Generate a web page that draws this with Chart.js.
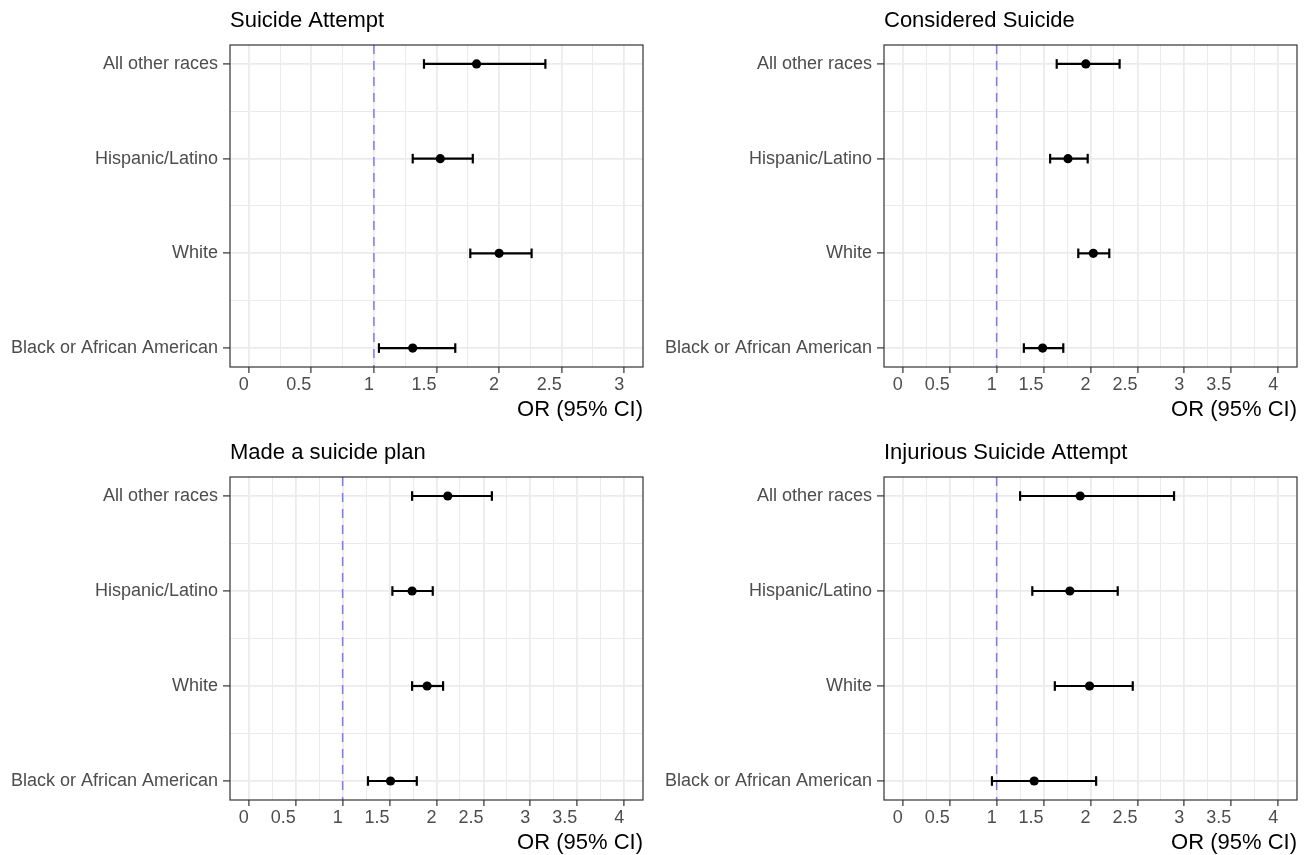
<!DOCTYPE html>
<html>
<head>
<meta charset="utf-8">
<script src="https://cdn.jsdelivr.net/npm/chart.js@4.4.1/dist/chart.umd.min.js"></script>
<style>
  html, body { margin: 0; padding: 0; background: #fff; }
  body { width: 1309px; height: 855px; position: relative; overflow: hidden; }
  canvas { position: absolute; }
</style>
</head>
<body>
<canvas id="c1"></canvas>
<canvas id="c2"></canvas>
<canvas id="c3"></canvas>
<canvas id="c4"></canvas>
<script>
const races = ['All other races', 'Hispanic/Latino', 'White', 'Black or African American'];
const titles = ['Suicide Attempt', 'Considered Suicide', 'Made a suicide plan', 'Injurious Suicide Attempt'];

const orAttempt = [1.82, 1.53, 2.00, 1.31];
const loAttempt = [1.40, 1.31, 1.77, 1.04];
const hiAttempt = [2.37, 1.79, 2.26, 1.65];

const orConsidered = [1.95, 1.76, 2.03, 1.49];
const loConsidered = [1.64, 1.57, 1.87, 1.29];
const hiConsidered = [2.31, 1.97, 2.20, 1.71];

const orPlan = [2.12, 1.74, 1.90, 1.51];
const loPlan = [1.74, 1.53, 1.74, 1.27];
const hiPlan = [2.59, 1.96, 2.07, 1.79];

const orInjury = [1.89, 1.78, 1.99, 1.40];
const loInjury = [1.25, 1.38, 1.62, 0.95];
const hiInjury = [2.89, 2.29, 2.45, 2.06];

const xMaxes = [3, 4, 4, 4];
const refValue = 1;
const axisTitle = 'OR (95% CI)';

Chart.defaults.font.family = "'Liberation Sans', Arial, sans-serif";
Chart.defaults.animation = false;

// canvas box and plot area for each panel, in page pixels
const boxes = [
  {left: 0,   top: 0,   w: 654, h: 430, pl: 230, pt: 45,  pr: 643,  pb: 367},
  {left: 654, top: 0,   w: 655, h: 430, pl: 884, pt: 45,  pr: 1297, pb: 367},
  {left: 0,   top: 425, w: 654, h: 430, pl: 230, pt: 477, pr: 643,  pb: 800},
  {left: 654, top: 425, w: 655, h: 430, pl: 884, pt: 477, pr: 1297, pb: 800}
];

const frame = {
  id: 'frame',
  afterDraw(chart) {
    const a = chart.chartArea, c = chart.ctx;
    c.save();
    c.strokeStyle = '#333333';
    c.lineWidth = 1.2;
    c.strokeRect(a.left, a.top, a.right - a.left, a.bottom - a.top);
    c.restore();
  }
};

function drawPanel(id, b, title, or, lo, hi, xMax) {
  const cv = document.getElementById(id);
  cv.width = b.w; cv.height = b.h;
  cv.style.left = b.left + 'px'; cv.style.top = b.top + 'px';
  cv.style.width = b.w + 'px'; cv.style.height = b.h + 'px';

  const xPad = xMax * 0.05;
  const yPad = 0.2;
  const nRows = races.length;

  const datasets = [{
    data: or.map((v, i) => ({x: v, y: i})),
    pointRadius: 4.6,
    pointBackgroundColor: '#000',
    pointBorderColor: '#000',
    pointBorderWidth: 0,
    order: 0
  }];
  races.forEach((r, i) => {
    datasets.push({
      data: [{x: lo[i], y: i}, {x: hi[i], y: i}],
      showLine: true,
      borderColor: '#000',
      borderWidth: 2.2,
      pointStyle: 'line',
      rotation: 90,
      pointRadius: 4.8,
      pointBorderWidth: 2.2,
      pointBorderColor: '#000',
      order: 1
    });
  });
  datasets.push({
    data: [{x: refValue, y: -yPad}, {x: refValue, y: nRows - 1 + yPad}],
    showLine: true,
    borderColor: 'rgba(60,60,255,0.65)',
    borderWidth: 1.5,
    borderDash: [9, 7],
    pointRadius: 0,
    order: 2
  });

  const titleTop = b.pt - 35 - b.top;
  const isMajorX = v => Math.abs(v * 2 - Math.round(v * 2)) < 1e-6;
  const isMajorY = v => Math.abs(v - Math.round(v)) < 1e-6;

  new Chart(cv, {
    type: 'scatter',
    data: {datasets},
    options: {
      responsive: false,
      events: [],
      layout: {padding: {left: 0, top: 0, bottom: 0, right: b.left + b.w - b.pr}},
      plugins: {
        legend: {display: false},
        tooltip: {enabled: false},
        title: {
          display: true,
          text: title,
          align: 'start',
          fullSize: false,
          color: '#000',
          font: {size: 22, weight: 'normal', lineHeight: 1},
          padding: {top: titleTop, bottom: (b.pt - b.top) - titleTop - 22}
        }
      },
      scales: {
        x: {
          type: 'linear',
          min: -xPad,
          max: xMax + xPad,
          afterBuildTicks: s => {
            const t = [];
            for (let v = 0; v <= xMax + 1e-9; v += 0.25) t.push({value: v});
            s.ticks = t;
          },
          afterFit: s => { s.height = b.top + b.h - b.pb; },
          border: {display: false},
          grid: {
            color: '#ebebeb',
            lineWidth: c => isMajorX(c.tick.value) ? 1.8 : 1,
            tickColor: c => isMajorX(c.tick.value) ? '#333333' : 'rgba(0,0,0,0)',
            tickWidth: 1.2,
            tickLength: 6
          },
          ticks: {
            autoSkip: false,
            maxRotation: 0,
            align: 'end',
            padding: 1,
            color: '#4d4d4d',
            font: {size: 18},
            callback: v => isMajorX(v) ? String(Math.round(v * 2) / 2) : ''
          },
          title: {
            display: true,
            text: axisTitle,
            align: 'end',
            color: '#000',
            font: {size: 22, lineHeight: 1},
            padding: {top: 0, bottom: (b.top + b.h - b.pb - 42.5) - 11}
          }
        },
        y: {
          type: 'linear',
          reverse: true,
          min: -yPad,
          max: nRows - 1 + yPad,
          afterBuildTicks: s => {
            const t = [];
            for (let v = 0; v <= nRows - 1 + 1e-9; v += 0.5) t.push({value: v});
            s.ticks = t;
          },
          afterFit: s => { s.width = b.pl - b.left; },
          border: {display: false},
          grid: {
            color: '#ebebeb',
            lineWidth: c => isMajorY(c.tick.value) ? 1.8 : 1,
            tickColor: c => isMajorY(c.tick.value) ? '#333333' : 'rgba(0,0,0,0)',
            tickWidth: 1.2,
            tickLength: 7
          },
          ticks: {
            autoSkip: false,
            padding: 5,
            color: '#4d4d4d',
            font: {size: 18},
            callback: v => isMajorY(v) ? races[Math.round(v)] : ''
          }
        }
      }
    },
    plugins: [frame]
  });
}

drawPanel('c1', boxes[0], titles[0], orAttempt, loAttempt, hiAttempt, xMaxes[0]);
drawPanel('c2', boxes[1], titles[1], orConsidered, loConsidered, hiConsidered, xMaxes[1]);
drawPanel('c3', boxes[2], titles[2], orPlan, loPlan, hiPlan, xMaxes[2]);
drawPanel('c4', boxes[3], titles[3], orInjury, loInjury, hiInjury, xMaxes[3]);
</script>
</body>
</html>
